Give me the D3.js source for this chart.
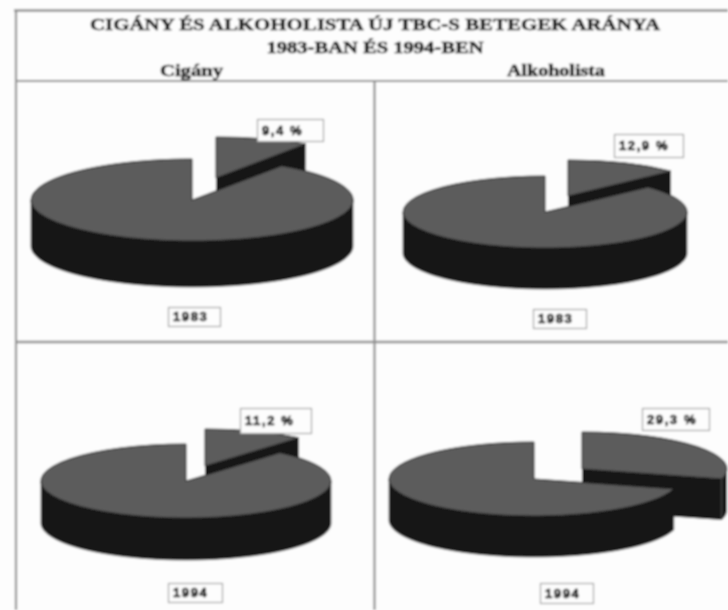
<!DOCTYPE html>
<html><head><meta charset="utf-8">
<script src="https://cdn.jsdelivr.net/npm/d3@7/dist/d3.min.js"></script>
<style>html,body{margin:0;padding:0;background:#fdfdfd;overflow:hidden}svg{display:block}</style>
</head><body><svg id="c" width="728" height="610"></svg>
<script>
// data
const titleLines = ["CIGÁNY ÉS ALKOHOLISTA ÚJ TBC-S BETEGEK ARÁNYA", "1983-BAN ÉS 1994-BEN"];
const columnNames = ["Cigány", "Alkoholista"];
const years = ["1983", "1983", "1994", "1994"];
const shares = [9.4, 12.9, 11.2, 29.3];
const shareLabels = ["9,4 %", "12,9 %", "11,2 %", "29,3 %"];

// layout
const titleFit = [{x:375,y:30,w:570,fs:17},{x:375,y:53,w:217,fs:16}];
const columnFit = [{x:191.5,y:76,w:63,fs:16},{x:556,y:76,w:98,fs:16}];
const geom = [
  {cx:192,cy:200,rx:161,ry:41,d:46,dx:24,dy:-22,lb:[257,119,66,22],yb:[168,307,52,19]},
  {cx:545,cy:212,rx:142,ry:36,d:41,dx:23,dy:-16,lb:[614,134,69,23],yb:[533,309,53,19]},
  {cx:186,cy:481,rx:145,ry:37,d:42,dx:19,dy:-15,lb:[240,408,71,25],yb:[168,583,54,19]},
  {cx:534,cy:479,rx:145,ry:37,d:41,dx:48,dy:-10,lb:[642,408,67,22],yb:[540,583,53,20]}
];
const TOP="#5c5c5c", SIDE="#171717", EDGE="#222", LINE="#8e8e8e", INK="#111";

const svg = d3.select("#c");
const defs = svg.append("defs");
defs.append("filter").attr("id","soft").attr("x","-5%").attr("y","-5%").attr("width","110%").attr("height","110%")
  .append("feGaussianBlur").attr("stdDeviation",1);
const root = svg.append("g").attr("filter","url(#soft)");
root.append("rect").attr("x",-20).attr("y",-20).attr("width",770).attr("height",650).attr("fill","#fdfdfd");

// frame
const frame = [[14,10.5,728,10.5,2.6],[16,10,16,610,2.2],[16,81,728,81,1.8],[374.5,81,374.5,610,2.2],[16,342,728,342,2.6]];
root.selectAll("line.f").data(frame).join("line").attr("class","f")
  .attr("x1",d=>d[0]).attr("y1",d=>d[1]).attr("x2",d=>d[2]).attr("y2",d=>d[3])
  .attr("stroke",LINE).attr("stroke-width",d=>d[4]);

// titles
const serif = "'Liberation Serif','Times New Roman',serif";
const fitted=(cls,texts,fit)=>root.selectAll("text."+cls).data(texts).join("text").attr("class",cls)
  .attr("x",(d,i)=>fit[i].x).attr("y",(d,i)=>fit[i].y).attr("text-anchor","middle")
  .attr("textLength",(d,i)=>fit[i].w).attr("lengthAdjust","spacingAndGlyphs")
  .attr("font-family",serif).attr("font-weight","bold").attr("font-size",(d,i)=>fit[i].fs)
  .attr("fill",INK).attr("stroke",INK).attr("stroke-width",0.5).text(d=>d);
fitted("t",titleLines,titleFit);
fitted("c",columnNames,columnFit);

const pie = d3.pie().sort(null).value(d=>d);
const unitArc = d3.arc().innerRadius(0).outerRadius(1);

function wallPath(g,a0,a1){ // outer wall between angles (clockwise from top)
  const n=60, t=d3.range(n+1).map(i=>a0+(a1-a0)*i/n);
  const pt=(a,o)=>[g.cx+g.rx*Math.sin(a), g.cy-g.ry*Math.cos(a)+o];
  const pts=t.map(a=>pt(a,0)).concat(t.slice().reverse().map(a=>pt(a,g.d)));
  return d3.line()(pts)+"Z";
}
function facePath(g,a){
  const x=g.cx+g.rx*Math.sin(a), y=g.cy-g.ry*Math.cos(a);
  return d3.line()([[g.cx,g.cy],[x,y],[x,y+g.d],[g.cx,g.cy+g.d]])+"Z";
}
function topFace(sel,g,arcD){
  sel.append("path").attr("d",unitArc(arcD))
    .attr("transform",`translate(${g.cx},${g.cy}) scale(${g.rx},${g.ry})`)
    .attr("fill",TOP).attr("stroke",EDGE).attr("stroke-width",1)
    .style("vector-effect","non-scaling-stroke");
}
shares.forEach((s,i)=>{
  const g=geom[i];
  const arcs=pie([s,100-s]);
  const a=arcs[0].endAngle;
  const P=root.append("g");
  // exploded slice
  const S=P.append("g").attr("transform",`translate(${g.dx},${g.dy})`);
  S.append("path").attr("d",facePath(g,a)).attr("fill",SIDE);
  if(a>Math.PI/2) S.append("path").attr("d",wallPath(g,Math.PI/2,a)).attr("fill",SIDE);
  topFace(S,g,arcs[0]);
  // main body
  P.append("path").attr("d",wallPath(g,Math.max(a,Math.PI/2),Math.PI*1.5)).attr("fill",SIDE).attr("stroke",SIDE).attr("stroke-width",0.6);
  topFace(P,g,arcs[1]);
  // labels
  const box=(b,txt)=>{
    root.append("rect").attr("x",b[0]+.5).attr("y",b[1]+.5).attr("width",b[2]).attr("height",b[3])
      .attr("fill","#fdfdfd").attr("stroke","#a0a0a0").attr("stroke-width",1.2);
    root.append("text").attr("x",b[0]+5).attr("y",b[1]+b[3]/2+4.5)
      .attr("font-family","'Liberation Sans',Arial,sans-serif").attr("font-weight","bold")
      .attr("font-size",13).attr("letter-spacing",1.6).attr("fill","#111")
      .attr("stroke","#111").attr("stroke-width",0.6).text(txt);
  };
  box(g.lb,shareLabels[i]);
  box(g.yb,years[i]);
});
</script></body></html>
